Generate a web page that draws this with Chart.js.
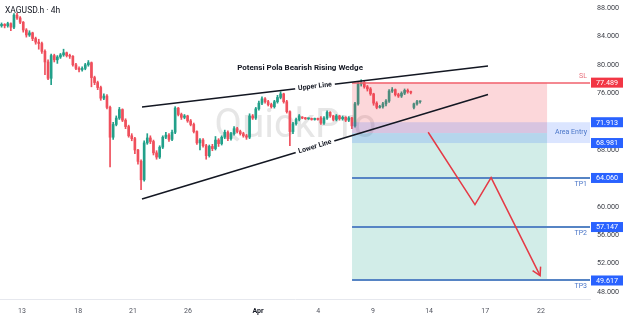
<!DOCTYPE html>
<html>
<head>
<meta charset="utf-8">
<script src="https://cdn.jsdelivr.net/npm/chart.js@4.4.1/dist/chart.umd.min.js"></script>
<style>
  html, body { margin: 0; padding: 0; background: #fff; }
  #wrap { width: 624px; height: 316px; }
</style>
</head>
<body>
<div id="wrap"><canvas id="chart" width="624" height="316"></canvas></div>
<script>
// XAGUSD 4h candles (one per 4h bar)
const opens = [85.5,85.7,85.5,85.8,85.3,87.0,86.6,86.0,84.9,84.2,84.5,83.7,83.2,83.0,81.9,80.4,78.1,81.3,80.7,81.1,
  81.4,81.7,81.3,81.2,80.0,79.5,79.3,79.5,80.0,80.3,78.2,77.5,76.8,75.3,75.6,74.0,69.8,71.6,72.5,73.7,
  72.2,71.3,70.0,69.6,68.0,66.4,63.8,69.0,69.7,69.2,67.6,67.0,68.4,69.8,70.1,69.5,70.5,73.9,73.0,72.6,
  72.8,72.1,71.6,70.6,69.0,69.4,68.6,67.2,68.5,68.2,69.4,68.9,69.8,70.5,69.6,70.3,71.0,70.6,70.3,70.0,
  69.8,72.8,72.5,73.8,74.6,75.2,74.8,74.4,74.1,74.8,75.4,75.9,74.8,73.4,70.6,71.7,72.3,72.6,72.5,72.4,
  72.4,72.3,72.4,72.5,71.8,72.5,73.3,72.8,72.3,72.8,72.4,72.6,72.2,72.5,71.4,74.5,77.3,77.5,76.9,76.6,
  75.9,74.6,74.0,74.1,74.5,74.9,76.3,76.5,75.8,75.6,76.0,76.4,76.2,74.0,74.5,74.8];
const closes = [85.7,85.5,85.8,85.3,87.0,86.6,86.0,84.9,84.2,84.5,83.7,83.2,83.0,81.9,80.4,78.1,81.3,80.7,81.1,81.4,
  81.7,81.3,81.2,80.0,79.5,79.3,79.5,80.0,80.3,78.2,77.5,76.8,75.3,75.6,74.0,69.8,71.6,72.5,73.7,72.2,
  71.3,70.0,69.6,68.0,66.4,63.8,69.0,69.7,69.2,67.6,67.0,68.4,69.8,70.1,69.5,70.5,73.9,73.0,72.6,72.8,
  72.1,71.6,70.6,69.0,69.4,68.6,67.2,68.5,68.2,69.4,68.9,69.8,70.5,69.6,70.3,71.0,70.6,70.3,70.0,69.8,
  72.8,72.5,73.8,74.6,75.2,74.8,74.4,74.1,74.8,75.4,75.9,74.8,73.4,70.6,71.7,72.3,72.8,72.5,72.4,72.4,
  72.3,72.4,72.3,71.8,72.5,73.3,72.8,72.3,72.8,72.4,72.6,72.2,72.5,71.4,74.5,77.3,77.5,76.9,76.6,75.9,
  74.6,74.0,74.1,74.5,74.9,76.3,76.5,75.8,75.6,76.0,76.4,76.2,76.1,74.5,74.8,74.8];
const highs = [85.9,85.8,86.0,85.9,87.2,87.3,86.8,86.1,85.1,84.8,84.6,83.9,83.6,83.2,82.1,80.7,81.5,81.5,81.3,81.6,
  82.2,81.8,81.5,81.3,80.2,79.7,79.7,80.2,80.6,80.4,78.4,77.7,77.0,75.9,75.8,74.2,71.9,72.8,74.0,73.8,
  72.4,71.5,70.3,69.8,68.1,66.6,69.3,70.3,70.0,69.4,67.9,68.6,70.0,70.5,70.3,70.8,74.1,74.0,73.2,73.0,
  72.9,72.3,71.8,70.7,69.6,69.6,68.8,68.7,68.8,69.9,69.6,70.0,70.8,70.7,70.5,71.3,71.2,70.8,70.5,70.2,
  73.1,73.0,74.0,74.9,75.5,75.4,75.0,74.6,75.0,75.7,76.2,76.0,75.0,73.5,71.9,72.5,73.0,72.7,72.6,72.5,
  72.5,72.5,72.5,72.7,72.7,73.5,73.4,72.9,73.0,72.9,72.8,72.7,72.7,72.6,74.7,77.6,77.9,77.7,77.1,76.8,
  76.0,74.8,74.3,74.7,75.1,76.5,76.8,76.6,76.0,76.2,76.6,76.6,76.3,74.6,75.0,74.9];
const lows = [85.3,85.2,85.3,84.8,85.1,86.4,85.8,84.6,83.9,84.0,83.4,82.9,82.2,81.6,78.6,77.9,77.2,80.4,80.2,80.9,
  81.2,81.1,80.9,79.8,79.3,79.0,79.1,79.3,79.8,76.9,77.2,76.5,75.0,75.1,73.8,65.6,69.5,71.4,72.3,72.0,
  71.0,69.8,69.3,67.5,66.0,62.4,63.6,68.8,68.9,67.3,66.7,66.8,68.2,69.6,69.2,69.3,70.3,72.8,72.3,72.4,
  71.9,71.4,70.4,68.8,68.0,68.4,66.7,67.0,67.9,68.0,68.5,68.7,69.6,69.3,69.4,70.1,70.4,70.1,69.8,69.5,
  69.6,72.3,72.3,73.6,74.4,74.6,74.2,73.9,73.9,74.6,75.2,74.6,73.2,68.6,70.3,71.5,72.1,72.4,72.3,72.3,
  72.2,72.2,72.2,71.6,71.6,72.3,72.6,72.1,72.1,72.2,72.2,72.0,72.0,71.0,71.2,74.3,77.0,76.7,76.3,75.7,
  74.3,73.8,73.9,73.9,74.2,74.7,76.1,75.6,75.4,75.4,75.8,76.0,75.9,73.8,74.3,74.6];

// axes
const xTickPos = [6.6, 24.7, 42.4, 60.1, 82.7, 102.1, 119.8, 137.9, 156.0, 174.0];
const xTickLabels = ['13', '18', '21', '26', 'Apr', '4', '9', '14', '17', '22'];
const yTicks = [48, 52, 56, 60, 64, 68, 72, 76, 80, 84, 88];

// wedge lines (bar index, price)
const upperX = [45.3, 156.9];
const upperY = [74.06, 79.83];
const lowerX = [45.3, 156.9];
const lowerY = [61.10, 75.82];

// projected path
const arrowX = [137.6, 152.7, 157.9, 173.7];
const arrowY = [70.5, 60.3, 64.1, 50.3];

// trade setup
const zoneStart = 113.05;
const zoneEnd = 175.95;
const slPrice = 77.489;
const entryPrice = 70.39;
const entryHigh = 71.913;
const entryLow = 68.981;
const tpPrices = [64.060, 57.147, 49.617];
const tpNames = ['TP1', 'TP2', 'TP3'];

const upColor = '#22a08a';
const downColor = '#ef4f5c';
const barColors = closes.map((c, i) => c >= opens[i] ? upColor : downColor);

function lineText(ctx, xs, ys, label, chart) {
  const sx = chart.scales.x, sy = chart.scales.y;
  const x0 = sx.getPixelForValue(xs[0]), y0 = sy.getPixelForValue(ys[0]);
  const x1 = sx.getPixelForValue(xs[1]), y1 = sy.getPixelForValue(ys[1]);
  const ang = Math.atan2(y1 - y0, x1 - x0);
  ctx.save();
  ctx.translate((x0 + x1) / 2, (y0 + y1) / 2);
  ctx.rotate(ang);
  ctx.font = 'bold 7px Roboto';
  const w = ctx.measureText(label).width;
  ctx.fillStyle = '#fff';
  ctx.fillRect(-w / 2 - 3, -4, w + 6, 8);
  ctx.fillStyle = '#131722';
  ctx.textAlign = 'center';
  ctx.textBaseline = 'middle';
  ctx.fillText(label, 0, 0);
  ctx.restore();
}

function priceBox(ctx, chart, price, color) {
  const y = chart.scales.y.getPixelForValue(price);
  const x = chart.chartArea.right + 1;
  ctx.fillStyle = color;
  ctx.fillRect(x, y - 5, 32, 10);
  ctx.fillStyle = '#fff';
  ctx.font = '7.2px Roboto';
  ctx.textAlign = 'center';
  ctx.textBaseline = 'middle';
  ctx.fillText(price.toFixed(3), x + 16, y + 0.5);
}

const overlay = {
  id: 'overlay',
  beforeDatasetsDraw(chart) {
    const ctx = chart.ctx, sx = chart.scales.x, sy = chart.scales.y;
    ctx.save();
    ctx.font = '40px Roboto';
    ctx.fillStyle = 'rgba(120,120,120,0.19)';
    ctx.textAlign = 'center';
    ctx.textBaseline = 'alphabetic';
    ctx.fillText('QuickPro', sx.getPixelForValue(94.8), sy.getPixelForValue(69.9));
    ctx.restore();
  },
  afterDatasetDraw(chart, args) {
    if (args.index !== 4) return;
    const ctx = chart.ctx, sx = chart.scales.x, sy = chart.scales.y;
    const xa = sx.getPixelForValue(zoneStart), xb = sx.getPixelForValue(zoneEnd);
    const right = chart.chartArea.right;
    ctx.save();
    // risk / reward zones
    ctx.fillStyle = 'rgba(242,54,69,0.2)';
    ctx.fillRect(xa, sy.getPixelForValue(slPrice), xb - xa, sy.getPixelForValue(entryPrice) - sy.getPixelForValue(slPrice));
    ctx.fillStyle = 'rgba(8,153,129,0.18)';
    ctx.fillRect(xa, sy.getPixelForValue(entryPrice), xb - xa, sy.getPixelForValue(tpPrices[2]) - sy.getPixelForValue(entryPrice));
    // entry band
    ctx.fillStyle = 'rgba(41,98,255,0.17)';
    ctx.fillRect(xa, sy.getPixelForValue(entryHigh), right - xa, sy.getPixelForValue(entryLow) - sy.getPixelForValue(entryHigh));
    // SL line
    ctx.strokeStyle = '#f0606c';
    ctx.lineWidth = 1.5;
    let y = Math.round(sy.getPixelForValue(slPrice));
    ctx.beginPath(); ctx.moveTo(xa, y); ctx.lineTo(right, y); ctx.stroke();
    // TP lines
    ctx.strokeStyle = '#5684c4';
    ctx.lineWidth = 2;
    tpPrices.forEach(p => {
      const yy = Math.round(sy.getPixelForValue(p));
      ctx.beginPath(); ctx.moveTo(xa, yy); ctx.lineTo(right, yy); ctx.stroke();
    });
    ctx.restore();
  },
  afterDatasetsDraw(chart) {
    const ctx = chart.ctx, sx = chart.scales.x, sy = chart.scales.y;
    lineText(ctx, upperX, upperY, 'Upper Line', chart);
    lineText(ctx, lowerX, lowerY, 'Lower Line', chart);
    // arrow head
    const n = arrowX.length;
    const px = sx.getPixelForValue(arrowX[n - 1]), py = sy.getPixelForValue(arrowY[n - 1]);
    const qx = sx.getPixelForValue(arrowX[n - 2]), qy = sy.getPixelForValue(arrowY[n - 2]);
    const a = Math.atan2(py - qy, px - qx);
    ctx.save();
    ctx.strokeStyle = '#e53945';
    ctx.lineWidth = 1.5;
    ctx.beginPath();
    ctx.moveTo(px + 9 * Math.cos(a + Math.PI - 0.52), py + 9 * Math.sin(a + Math.PI - 0.52));
    ctx.lineTo(px, py);
    ctx.lineTo(px + 9 * Math.cos(a + Math.PI + 0.52), py + 9 * Math.sin(a + Math.PI + 0.52));
    ctx.stroke();
    // title
    ctx.font = 'bold 8px Roboto';
    ctx.fillStyle = '#131722';
    ctx.textAlign = 'center';
    ctx.textBaseline = 'middle';
    ctx.fillText('Potensi Pola Bearish Rising Wedge', sx.getPixelForValue(96.3), sy.getPixelForValue(79.55));
    ctx.restore();
  },
  afterDraw(chart) {
    const ctx = chart.ctx, sy = chart.scales.y;
    const right = chart.chartArea.right;
    ctx.save();
    // level labels
    ctx.font = '7px Roboto';
    ctx.textAlign = 'right';
    ctx.textBaseline = 'middle';
    ctx.fillStyle = '#e8707c';
    ctx.fillText('SL', right - 3, sy.getPixelForValue(slPrice) - 6);
    ctx.fillStyle = '#4a76c8';
    ctx.fillText('Area Entry', right - 3, (sy.getPixelForValue(entryHigh) + sy.getPixelForValue(entryLow)) / 2);
    tpPrices.forEach((p, i) => ctx.fillText(tpNames[i], right - 3, sy.getPixelForValue(p) + 6));
    // price boxes
    priceBox(ctx, chart, slPrice, '#f23645');
    priceBox(ctx, chart, entryHigh, '#2962ff');
    priceBox(ctx, chart, entryLow, '#2962ff');
    tpPrices.forEach(p => priceBox(ctx, chart, p, '#2962ff'));
    // symbol header
    ctx.font = '8.5px Roboto';
    ctx.fillStyle = '#131722';
    ctx.textAlign = 'left';
    ctx.textBaseline = 'middle';
    ctx.fillText('XAGUSD.h · 4h', 5, 10.5);
    ctx.restore();
  }
};

const ctx = document.getElementById('chart').getContext('2d');

new Chart(ctx, {
  type: 'bar',
  data: {
    datasets: [
      {
        type: 'line',
        data: upperX.map((x, i) => ({ x: x, y: upperY[i] })),
        borderColor: '#131722', borderWidth: 1.5, pointRadius: 0, tension: 0, fill: false, order: 2
      },
      {
        type: 'line',
        data: lowerX.map((x, i) => ({ x: x, y: lowerY[i] })),
        borderColor: '#131722', borderWidth: 1.5, pointRadius: 0, tension: 0, fill: false, order: 2
      },
      {
        type: 'line',
        data: arrowX.map((x, i) => ({ x: x, y: arrowY[i] })),
        borderColor: '#e53945', borderWidth: 1.5, pointRadius: 0, tension: 0, fill: false, order: 1
      },
      {
        data: closes.map((c, i) => ({ x: i, y: [lows[i], highs[i]] })),
        backgroundColor: barColors, barThickness: 1, grouped: false, order: 6
      },
      {
        data: closes.map((c, i) => ({ x: i, y: [opens[i], c] })),
        backgroundColor: barColors, barThickness: 2, minBarLength: 1, grouped: false, order: 5
      }
    ]
  },
  options: {
    responsive: false,
    animation: false,
    devicePixelRatio: 1,
    layout: { padding: 0 },
    plugins: { legend: { display: false }, tooltip: { enabled: false } },
    scales: {
      x: {
        type: 'linear', min: -0.5, max: 189.8, offset: false,
        grid: { display: false },
        border: { display: true, color: '#e6e8ee' },
        afterBuildTicks: s => { s.ticks = xTickPos.map(v => ({ value: v })); },
        afterFit: s => { s.height = 17; s.paddingLeft = 0; s.paddingRight = 0; },
        ticks: {
          autoSkip: false, maxRotation: 0, padding: 0,
          callback: (v, i) => xTickLabels[i],
          color: c => (c.tick && c.tick.label === 'Apr') ? '#131722' : '#50535e',
          font: c => ({ family: 'Roboto', size: 7, weight: (c.tick && c.tick.label === 'Apr') ? 'bold' : 'normal' })
        }
      },
      y: {
        position: 'right', min: 47.01, max: 89.13,
        grid: { display: false, drawTicks: false },
        border: { display: false },
        afterBuildTicks: s => { s.ticks = yTicks.map(v => ({ value: v })); },
        afterFit: s => { s.width = 34; s.paddingTop = 0; s.paddingBottom = 0; },
        ticks: {
          padding: 7,
          callback: v => v.toFixed(3),
          color: '#3b3e46',
          font: { family: 'Roboto', size: 7.2 }
        }
      }
    }
  },
  plugins: [overlay]
});
</script>
</body>
</html>
